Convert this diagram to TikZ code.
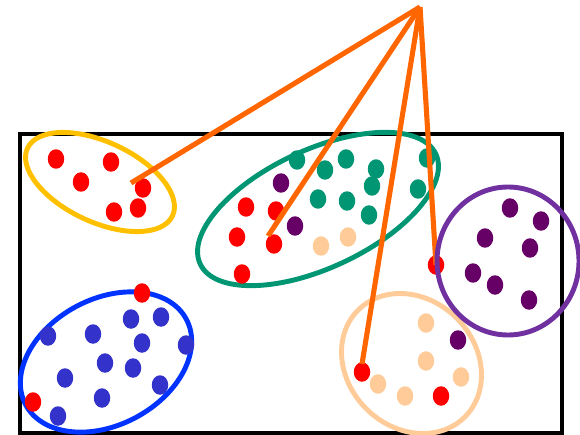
\documentclass[tikz,border=0pt]{standalone}
\usetikzlibrary{shapes.geometric}
\definecolor{cOrange}{HTML}{FF6600}
\definecolor{cYellow}{HTML}{FFC000}
\definecolor{cGreen}{HTML}{009673}
\definecolor{cBlue}{HTML}{0033FF}
\definecolor{cBlueDot}{HTML}{3333CC}
\definecolor{cPurpleDot}{HTML}{660066}
\definecolor{cPurple}{HTML}{7030A0}
\definecolor{cPeach}{HTML}{FFCC99}
\definecolor{cRed}{HTML}{FF0000}
\begin{document}
\begin{tikzpicture}[x=0.02cm,y=-0.02cm,
  dot/.style={ellipse, minimum width=0.33cm, minimum height=0.39cm, inner sep=0pt, draw=none},
  ring/.style={line width=2.8pt},
  spoke/.style={line width=2.9pt, color=cOrange},
  frame/.style={line width=2.3pt, color=black}]
\useasboundingbox (0,0) rectangle (580,435);
\draw[frame] (20,134) rectangle (562,433);
% cluster outlines
\draw[ring, cYellow, rotate around={-25:(100,182)}] (100,182) ellipse [x radius=80, y radius=40];
\draw[ring, cGreen, rotate around={25:(318,209)}] (318,209) ellipse [x radius=130, y radius=59];
\draw[ring, cBlue, rotate around={28:(106,362)}] (106,362) ellipse [x radius=91, y radius=63];
\draw[ring, cPeach, rotate around={-45:(411.5,363.5)}] (411.5,363.5) ellipse [x radius=75.5, y radius=64];
% yellow cluster dots
\foreach \p [count=\i] in {(56,159),(111,162),(81,182),(143,188),(138,208),(114,212)}
  \node[dot, fill=cRed] (y\i) at \p {};
% green cluster dots
\foreach \p [count=\i] in {(297,160),(325,170),(346,159),(376,169),(372,186),(427,158),(418,189),(318,199),(347,201),(369,215)}
  \node[dot, fill=cGreen] (g\i) at \p {};
\foreach \p [count=\i] in {(281,183),(295,226)}
  \node[dot, fill=cPurpleDot] (gp\i) at \p {};
\foreach \p [count=\i] in {(246,207),(276,211),(237,237),(274,244),(242,274)}
  \node[dot, fill=cRed] (gr\i) at \p {};
\foreach \p [count=\i] in {(321,246),(348,237)}
  \node[dot, fill=cPeach] (gk\i) at \p {};
% blue cluster dots
\foreach \p [count=\i] in {(48,336),(93,334),(131,319),(161,317),(186,345),(142,343),(105,363),(133,368),(65,378),(102,398),(160,385),(58,416)}
  \node[dot, fill=cBlueDot] (b\i) at \p {};
\foreach \p [count=\i] in {(142,293),(33,402)}
  \node[dot, fill=cRed] (br\i) at \p {};
% purple cluster dots
\foreach \p [count=\i] in {(510,208),(541,221),(485,238),(530,248),(473,273),(495,285),(529,300)}
  \node[dot, fill=cPurpleDot] (p\i) at \p {};
\node[dot, fill=cRed] (pr) at (436,265) {};
% peach cluster dots
\foreach \p [count=\i] in {(426,323),(426,361),(378,384),(405,396),(461,377)}
  \node[dot, fill=cPeach] (k\i) at \p {};
\node[dot, fill=cPurpleDot] (kp) at (458,340) {};
\foreach \p [count=\i] in {(362,372),(441,396)}
  \node[dot, fill=cRed] (kr\i) at \p {};
% spokes
\coordinate (apex) at (420,7);
\coordinate (ey) at (131,183);
\coordinate (eg) at (268,236);
\coordinate (ek) at (362,364);
\draw[spoke] (apex) -- (ey);
\draw[spoke] (apex) -- (eg);
\draw[spoke] (apex) -- (ek);
\draw[spoke] (apex) -- (pr.center);
% purple outline on top
\draw[ring, cPurple] (508,261) ellipse [x radius=71, y radius=74];
\end{tikzpicture}
\end{document}
